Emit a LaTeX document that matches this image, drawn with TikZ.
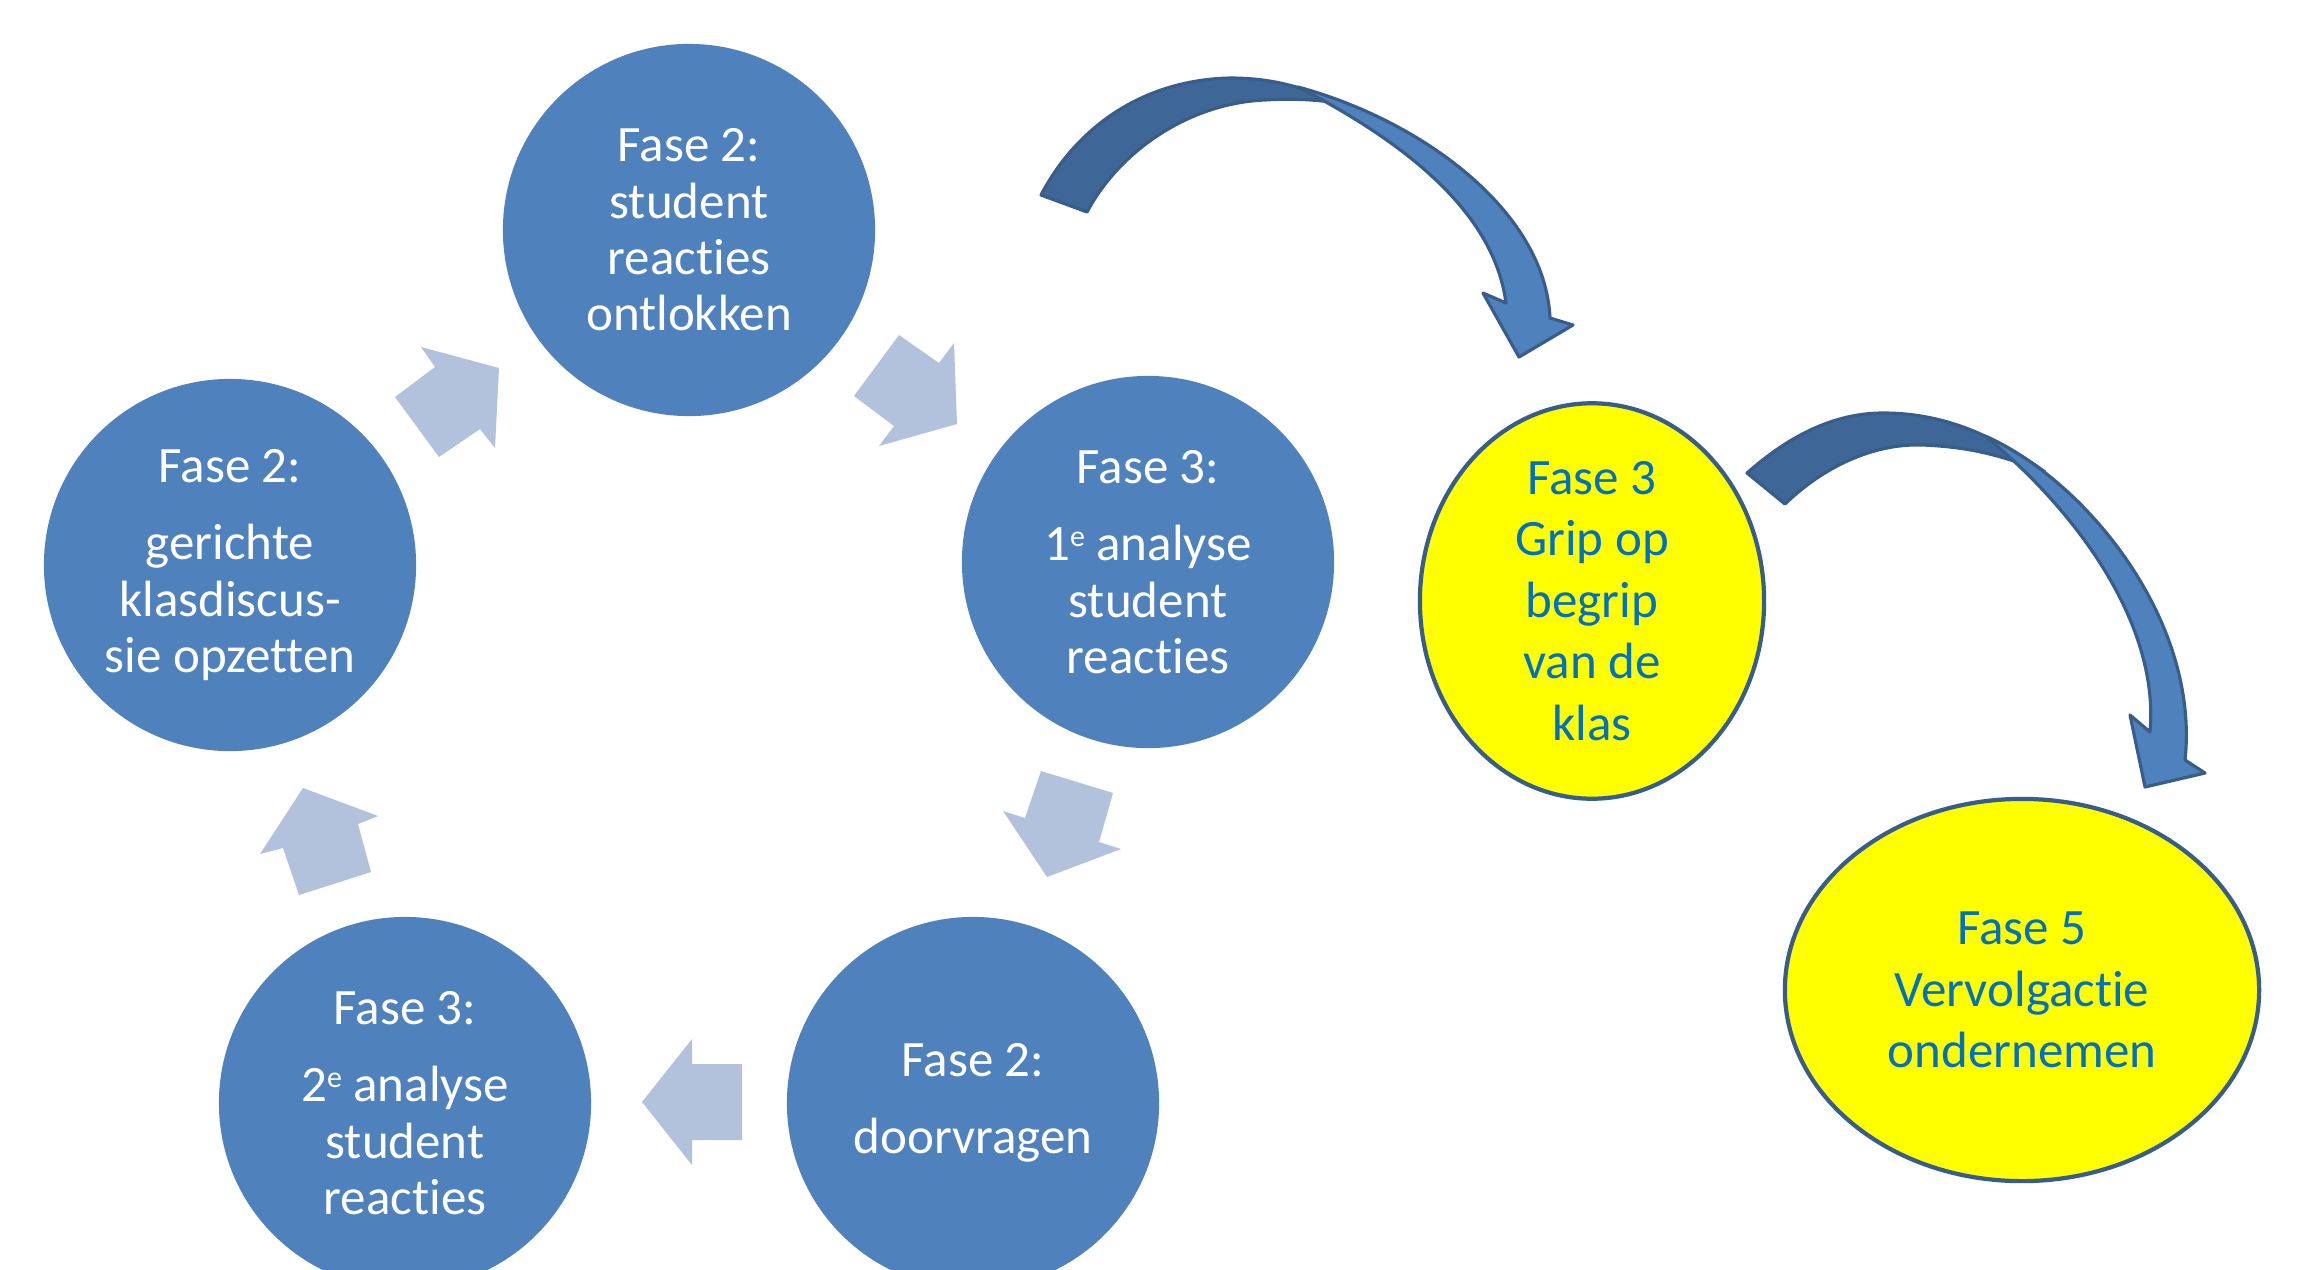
\documentclass[tikz,border=0pt]{standalone}
\usepackage{fontspec}
\setmainfont{Carlito}[Ligatures={NoCommon,NoContextual}]
\usetikzlibrary{shapes.geometric}
\definecolor{cblue}{HTML}{4F81BD}
\definecolor{clight}{HTML}{B2C1DC}
\definecolor{cdark}{HTML}{3E6696}
\definecolor{cedge}{HTML}{385D8A}
\definecolor{ctext}{HTML}{0070C0}
\definecolor{cyell}{HTML}{FFFF00}
\newcommand{\supe}{\raisebox{0.6ex}{\fontsize{8.5}{8.5}\selectfont e}}
\begin{document}
\begin{tikzpicture}[x=0.01cm,y=-0.01cm,
  phase/.style={circle,fill=cblue,minimum size=3.72cm,inner sep=0pt,text=white,align=center,font=\fontsize{14.5}{16}\selectfont},
  goal/.style={ellipse,fill=cyell,draw=cedge,line width=1.2pt,inner sep=0pt,text=ctext,align=center,font=\fontsize{14.5}{17.5}\selectfont},
  chev/.style={fill=clight},
  backpart/.style={fill=cdark,draw=cedge,line width=0.9pt,line join=round},
  frontpart/.style={fill=cblue,draw=cedge,line width=0.9pt,line join=round}]
\useasboundingbox (0,0) rectangle (2300,1269);
\clip (0,0) rectangle (2300,1269);
\fill[white] (0,0) rectangle (2300,1269);

\node[phase] (top) at (689,230) {Fase 2:\\student\\reacties\\ontlokken};
\node[phase] (left) at (230,565) {Fase 2:\\[6pt]gerichte\\klasdiscus-\\sie opzetten};
\node[phase] (right) at (1148,562) {Fase 3:\\[6pt]1\supe{} analyse\\student\\reacties};
\node[phase] (br) at (973,1103) {Fase 2:\\[6pt]doorvragen};
\node[phase] (bl) at (405,1103) {Fase 3:\\[6pt]2\supe{} analyse\\student\\reacties};

\node[goal,minimum width=3.44cm,minimum height=3.8cm] (g1) at (1592,601) {Fase 3\\Grip op\\begrip\\van de\\klas};
\node[goal,minimum width=4.74cm,minimum height=3.82cm] (g2) at (2022,990) {Fase 5\\Vervolgactie\\ondernemen};

% cycle chevrons
\fill[chev] (499,368) -- (421,347) -- (435,367) -- (395,397) -- (439,457) -- (480,429) -- (495,448) -- cycle;
\fill[chev] (957,424) -- (954,343) -- (939,363) -- (899,335) -- (854,396) -- (894,426) -- (879,446) -- cycle;
\fill[chev] (1047,877) -- (1121,849) -- (1099,842) -- (1113,793) -- (1041,771) -- (1025,818) -- (1003,811) -- cycle;
\fill[chev] (642,1102) -- (692,1039) -- (692,1064) -- (742,1064) -- (742,1140) -- (692,1140) -- (692,1165) -- cycle;
\fill[chev] (303,788) -- (378,816) -- (358,824) -- (371,872) -- (299,895) -- (283,848) -- (260,854) -- cycle;

% curved arrow 1
\draw[backpart] (1041,195) .. controls (1075,130) and (1140,80) .. (1230,78) .. controls (1270,78) and (1300,86) .. (1345,104) .. controls (1320,100) and (1295,98) .. (1265,100) .. controls (1190,103) and (1120,150) .. (1087,212) -- cycle;
\draw[frontpart] (1298,87) .. controls (1420,120) and (1545,210) .. (1550,318) -- (1573,325) -- (1519,357) -- (1483,293) -- (1506,303) .. controls (1495,220) and (1420,150) .. (1298,87) -- cycle;

% curved arrow 2
\draw[backpart] (1747,473) .. controls (1790,435) and (1835,413) .. (1883,413) .. controls (1950,413) and (2000,440) .. (2045,472) .. controls (2000,455) and (1970,447) .. (1923,445) .. controls (1870,443) and (1820,470) .. (1785,504) -- cycle;
\draw[frontpart] (1985,436) .. controls (2085,480) and (2200,620) .. (2185,760) -- (2205,773) -- (2145,787) -- (2130,715) -- (2150,732) .. controls (2160,620) and (2070,505) .. (1985,436) -- cycle;
\end{tikzpicture}
\end{document}
